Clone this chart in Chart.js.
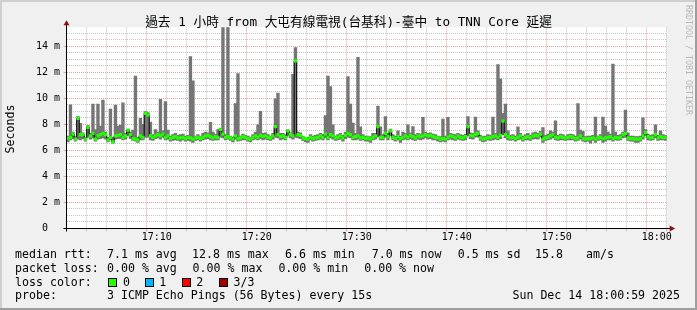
<!DOCTYPE html>
<html>
<head>
<meta charset="utf-8">
<script src="https://cdn.jsdelivr.net/npm/chart.js@4/dist/chart.umd.min.js"></script>
<style>
html,body{margin:0;padding:0;background:#f0f0f0;}
#wrap{position:relative;width:697px;height:310px;overflow:hidden;background:#f0f0f0;font-family:"DejaVu Sans Mono",monospace;color:#000;}
#wrap canvas{position:absolute;left:0;top:0;}
.t{position:absolute;white-space:pre;font-size:11.6px;line-height:11.6px;}
.box{position:absolute;width:7px;height:7px;border:1px solid #000;}
.edge{position:absolute;}
</style>
</head>
<body>
<div id="wrap">
  <canvas id="c" width="697" height="310"></canvas>
  <div class="edge" style="left:0;top:0;width:697px;height:2px;background:#cfcfcf"></div>
  <div class="edge" style="left:0;top:0;width:2px;height:310px;background:#cfcfcf"></div>
  <div class="edge" style="left:0;top:308px;width:697px;height:2px;background:#9e9e9e"></div>
  <div class="edge" style="left:695px;top:0;width:2px;height:310px;background:#9e9e9e"></div>
  <div class="t" id="title" style="left:0;width:697px;text-align:center;top:15px;font-size:12.7px;line-height:13px;font-family:'DejaVu Sans Mono','Noto Sans CJK TC',monospace;">過去 1 小時 from 大屯有線電視(台基科)-臺中 to TNN Core 延遲</div>
  <div class="t" style="left:11px;top:128.7px;transform:translate(-50%,-50%) rotate(-90deg);">Seconds</div>
  <div class="t" style="left:685px;top:5px;writing-mode:vertical-rl;font-size:8.3px;line-height:8.3px;color:#b8b8b8;">RRDTOOL / TOBI OETIKER</div>

  <div class="t" style="left:15px;top:248.7px">median rtt:</div>
  <div class="t" style="left:107px;top:248.7px">7.1 ms avg</div>
  <div class="t" style="left:192px;top:248.7px">12.8 ms max</div>
  <div class="t" style="left:285px;top:248.7px">6.6 ms min</div>
  <div class="t" style="left:371.7px;top:248.7px">7.0 ms now</div>
  <div class="t" style="left:457.7px;top:248.7px">0.5 ms sd</div>
  <div class="t" style="left:535px;top:248.7px">15.8</div>
  <div class="t" style="left:586px;top:248.7px">am/s</div>

  <div class="t" style="left:15px;top:262.7px">packet loss:</div>
  <div class="t" style="left:107px;top:262.7px">0.00 % avg</div>
  <div class="t" style="left:192.6px;top:262.7px">0.00 % max</div>
  <div class="t" style="left:278.4px;top:262.7px">0.00 % min</div>
  <div class="t" style="left:364.2px;top:262.7px">0.00 % now</div>

  <div class="t" style="left:15px;top:276.7px">loss color:</div>
  <div class="box" style="left:108px;top:278.3px;background:#26ff00"></div>
  <div class="t" style="left:123px;top:276.7px">0</div>
  <div class="box" style="left:145.3px;top:278.3px;background:#00b8ff"></div>
  <div class="t" style="left:159.3px;top:276.7px">1</div>
  <div class="box" style="left:182.2px;top:278.3px;background:#ff0000"></div>
  <div class="t" style="left:196.2px;top:276.7px">2</div>
  <div class="box" style="left:219px;top:278.3px;background:#a00000"></div>
  <div class="t" style="left:233.5px;top:276.7px">3/3</div>

  <div class="t" style="left:15px;top:290.4px">probe:</div>
  <div class="t" style="left:107px;top:290.4px">3 ICMP Echo Pings (56 Bytes) every 15s</div>
  <div class="t" style="right:17px;top:290.4px">Sun Dec 14 18:00:59 2025</div>
</div>
<script>
// ---- data ----
const startClock = '17:01:00';
const stepSeconds = 15;
const spanSeconds = 3600;
const yTop = 15.46;
const xTickLabels = ['17:10','17:20','17:30','17:40','17:50','18:00'];
const yTickLabels = ['0  ','2 m','4 m','6 m','8 m','10 m','12 m','14 m'];

const medianRtt = [
 6.9,7.0,7.25,6.85,8.45,7.2,7.2,6.85,7.76,7.1,7.3,6.85,7.1,7.2,7.3,7.2,6.8,7.0,6.65,7.1,
 7.15,7.2,7.0,7.1,7.55,7.2,6.9,6.85,6.8,7.1,7.0,8.84,8.7,7.1,7.0,7.1,7.2,7.1,7.25,7.0,
 7.1,6.9,7.0,7.05,6.95,6.95,7.0,6.9,7.0,6.95,6.85,6.95,7.0,6.9,7.0,7.1,7.15,7.05,6.95,7.05,
 7.0,7.6,7.25,7.0,7.05,6.95,6.85,7.1,6.9,6.95,7.05,7.0,6.9,6.85,7.0,7.1,7.0,7.15,7.05,7.1,
 7.0,6.95,7.1,7.82,7.2,7.05,7.1,7.0,7.5,7.2,7.1,12.87,7.2,7.15,6.95,6.9,6.85,7.0,6.9,6.95,
 7.0,7.1,7.0,7.25,7.0,7.2,7.1,6.95,7.0,7.1,6.95,7.15,7.3,7.2,7.0,7.05,7.1,6.95,7.0,6.9,
 6.95,6.85,7.0,7.1,7.82,7.0,7.0,7.3,7.05,7.5,7.0,6.9,7.05,6.9,7.0,7.1,7.0,7.15,7.05,6.95,
 7.1,7.05,7.1,7.2,7.1,7.15,7.05,7.0,6.95,6.85,6.9,6.85,7.0,7.1,7.05,6.95,7.1,7.0,6.95,7.05,
 7.82,7.15,7.1,7.25,7.3,6.95,6.85,6.9,7.0,6.95,7.05,7.1,7.0,7.15,8.25,7.2,7.05,6.95,7.0,6.9,
 7.0,7.1,6.9,7.0,7.05,6.95,7.1,7.15,7.1,7.25,6.85,6.95,7.0,7.1,7.2,7.0,6.95,7.05,7.0,6.95,
 7.0,7.05,7.0,6.9,6.95,7.1,6.9,6.85,6.9,6.9,6.95,6.85,6.95,7.0,6.9,6.95,7.0,7.05,6.9,7.0,
 6.95,7.0,7.2,7.3,6.95,6.9,6.9,6.85,6.85,6.9,7.1,7.35,7.05,6.95,7.0,7.2,6.95,7.05,7.0,7.0
];
const pingMax = [
 7.1,9.5,7.4,7.05,8.6,8.07,7.35,7.0,7.9,7.3,9.56,7.6,9.56,7.87,9.87,7.4,7.0,9.17,7.0,9.48,
 7.87,7.94,9.66,7.3,7.6,7.4,7.56,11.71,7.0,8.45,8.0,8.97,8.9,8.17,7.2,7.6,7.4,9.92,7.5,9.74,
 7.56,7.1,7.2,7.3,7.15,7.2,7.25,7.1,7.15,13.2,11.35,7.1,7.2,7.05,7.3,7.4,7.35,8.15,7.4,7.25,
 7.6,7.65,20,7.2,20,7.1,7.0,9.6,11.9,7.1,7.25,7.15,7.1,7.0,7.2,7.4,7.95,9.0,7.3,7.35,
 7.2,7.1,7.3,9.95,10.4,7.3,7.3,7.2,7.56,7.35,11.85,13.9,7.4,7.35,7.1,7.0,7.0,7.2,7.1,7.15,
 7.2,7.3,7.2,8.67,11.7,10.9,7.95,7.1,7.2,7.3,7.15,7.4,11.67,9.56,8.1,7.3,13.15,7.8,7.2,7.1,
 7.1,7.05,7.3,7.3,9.4,7.8,7.2,8.6,7.3,7.64,7.2,7.1,7.5,7.1,7.4,7.3,7.95,7.35,7.82,7.2,
 7.3,7.25,8.54,7.4,7.3,7.35,7.25,7.2,7.1,7.05,8.4,7.1,8.54,7.3,7.25,7.2,7.3,7.2,7.15,7.25,
 8.6,7.35,7.3,8.56,7.5,7.15,7.05,7.1,7.2,7.15,8.56,7.3,12.6,11.5,8.84,9.56,7.5,7.15,7.2,7.1,
 7.8,7.3,7.1,7.2,7.3,7.15,7.35,7.4,7.3,7.45,7.75,7.15,7.25,7.5,7.4,8.26,7.15,7.25,7.2,7.1,
 7.2,7.25,7.2,7.1,9.59,7.56,7.45,7.05,7.1,7.1,7.15,8.56,7.1,7.2,8.56,7.87,7.4,7.25,12.64,7.4,
 7.15,7.2,7.4,9.1,7.35,7.1,7.1,7.05,7.05,7.1,8.5,7.6,7.25,7.15,7.2,7.95,7.15,7.5,7.2,7.15
];
const pingMin = [
 6.65,6.8,6.9,6.7,6.85,6.8,6.9,6.7,7.0,6.85,6.95,6.7,6.85,6.9,6.95,6.85,6.65,6.8,6.55,6.85,
 6.9,6.9,6.8,6.85,7.1,6.9,6.75,6.7,6.6,6.8,6.8,7.0,7.0,6.8,6.75,6.9,6.95,6.85,7.0,6.8,
 6.85,6.7,6.75,6.8,6.75,6.7,6.8,6.7,6.75,6.7,6.6,6.75,6.8,6.7,6.8,6.85,6.9,6.8,6.75,6.8,
 6.8,7.0,6.95,6.8,6.85,6.75,6.65,6.85,6.7,6.75,6.8,6.8,6.7,6.65,6.8,6.85,6.8,6.9,6.8,6.85,
 6.8,6.75,6.85,7.0,6.95,6.8,6.85,6.8,7.1,6.95,6.85,7.0,6.95,6.9,6.75,6.65,6.6,6.8,6.7,6.75,
 6.8,6.85,6.8,6.95,6.8,6.95,6.85,6.75,6.8,6.85,6.7,6.9,7.0,6.95,6.8,6.8,6.85,6.75,6.8,6.7,
 6.7,6.6,6.8,6.85,7.05,6.8,6.8,7.0,6.8,7.1,6.8,6.7,6.8,6.6,6.8,6.85,6.8,6.9,6.8,6.75,
 6.85,6.8,6.85,6.95,6.85,6.9,6.8,6.8,6.7,6.65,6.7,6.65,6.8,6.85,6.8,6.75,6.85,6.8,6.75,6.8,
 7.1,6.9,6.85,7.0,7.05,6.75,6.65,6.7,6.8,6.75,6.8,6.85,6.8,6.9,7.2,6.95,6.8,6.75,6.8,6.7,
 6.8,6.85,6.7,6.8,6.8,6.75,6.85,6.9,6.85,7.0,6.6,6.75,6.8,6.85,6.95,6.8,6.75,6.8,6.8,6.75,
 6.8,6.8,6.8,6.7,6.75,6.85,6.7,6.65,6.7,6.55,6.75,6.6,6.75,6.8,6.6,6.7,6.8,6.8,6.7,6.8,
 6.75,6.8,6.95,7.0,6.75,6.7,6.7,6.6,6.6,6.7,6.85,7.1,6.8,6.75,6.8,6.95,6.75,6.8,6.8,6.75
];

// ---- helpers ----
function clockToSec(s){const p=s.split(':').map(Number);return p[0]*3600+p[1]*60+(p[2]||0);}
const startSec = clockToSec(startClock);
const majorSecs = xTickLabels.map(l => clockToSec(l) - startSec);
const tickSecs = [];
for (let s = 60; s < spanSeconds; s += 120) tickSecs.push(s);
const isMajorX = v => majorSecs.some(m => Math.abs(m - v) < 1e-6);
const isMajorY = v => Math.abs(v / 2 - Math.round(v / 2)) < 1e-6;
const tv = c => (c && c.tick) ? c.tick.value : NaN;

const MINOR = 'rgba(150,150,150,0.55)';
const MAJOR = 'rgba(225,110,110,0.65)';
const BAND = 0.1;

const smokeData = pingMin.map((lo, i) => ({x: i * stepSeconds + stepSeconds / 2, y: [lo, pingMax[i]]}));
const bandData = medianRtt.map((m, i) => ({x: i * stepSeconds + stepSeconds / 2, y: [m - BAND, m + BAND]}));
const lineData = medianRtt.map((m, i) => ({x: i * stepSeconds, y: m}));
lineData.push({x: medianRtt.length * stepSeconds, y: medianRtt[medianRtt.length - 1]});

const frame = {
  id: 'frame',
  beforeDraw(chart) {
    const {ctx, chartArea: a} = chart;
    ctx.save();
    ctx.fillStyle = '#ffffff';
    ctx.fillRect(a.left, a.top, a.right - a.left, a.bottom - a.top);
    ctx.restore();
  },
  afterDraw(chart) {
    const {ctx, chartArea: a} = chart;
    const X = Math.floor(a.left) + 0.5, Y = Math.floor(a.bottom) + 0.5;
    ctx.save();
    ctx.strokeStyle = '#000'; ctx.lineWidth = 1; ctx.setLineDash([]);
    ctx.beginPath(); ctx.moveTo(X, a.top - 3); ctx.lineTo(X, Y + 3); ctx.stroke();
    ctx.beginPath(); ctx.moveTo(X - 3, Y); ctx.lineTo(a.right + 4, Y); ctx.stroke();
    ctx.fillStyle = '#8e1010';
    ctx.beginPath(); ctx.moveTo(X, a.top - 7); ctx.lineTo(X - 3, a.top - 2); ctx.lineTo(X + 3, a.top - 2); ctx.closePath(); ctx.fill();
    ctx.beginPath(); ctx.moveTo(a.right + 8.5, Y); ctx.lineTo(a.right + 3, Y - 3); ctx.lineTo(a.right + 3, Y + 3); ctx.closePath(); ctx.fill();
    ctx.restore();
  }
};

new Chart(document.getElementById('c'), {
  type: 'bar',
  data: {
    datasets: [
      {type: 'bar', data: bandData, backgroundColor: '#20ff00', borderWidth: 0, barThickness: 2.6, grouped: false, order: 1},
      {type: 'line', data: lineData, borderColor: '#000000', borderWidth: 1, pointRadius: 0, stepped: 'before', fill: false, order: 2},
      {type: 'bar', data: smokeData, backgroundColor: '#757575', borderWidth: 0, barThickness: 2.7, grouped: false, order: 3}
    ]
  },
  options: {
    responsive: false, animation: false, devicePixelRatio: 1,
    layout: {padding: {left: 0, top: 27.3, right: 30.3, bottom: 61.7}},
    plugins: {legend: {display: false}, tooltip: {enabled: false}, title: {display: false}},
    scales: {
      x: {
        type: 'linear', min: 0, max: spanSeconds, offset: false,
        afterBuildTicks: s => { s.ticks = tickSecs.map(v => ({value: v})); },
        afterFit: s => { s.height = 20; },
        ticks: {
          autoSkip: false, maxRotation: 0, minRotation: 0, padding: 0, color: '#000',
          font: {family: 'DejaVu Sans Mono', size: 10},
          callback: v => { const k = majorSecs.findIndex(m => Math.abs(m - v) < 1e-6); return k >= 0 ? xTickLabels[k] : ''; }
        },
        grid: {
          color: c => isMajorX(tv(c)) ? MAJOR : MINOR,
          tickColor: c => isMajorX(tv(c)) ? MAJOR : MINOR,
          lineWidth: 1, tickLength: 3, drawTicks: true
        },
        border: {display: false, dash: [1, 1]}
      },
      y: {
        type: 'linear', min: 0, max: yTop,
        afterBuildTicks: s => { const t = []; for (let k = 0; k <= 30; k++) t.push({value: k / 2}); s.ticks = t; },
        afterFit: s => { s.width = 66.7; },
        ticks: {
          autoSkip: false, padding: 3.7, color: '#000',
          font: {family: 'DejaVu Sans Mono', size: 10},
          callback: v => isMajorY(v) ? (yTickLabels[Math.round(v / 2)] || '') : ''
        },
        grid: {
          color: c => isMajorY(tv(c)) ? MAJOR : MINOR,
          tickColor: c => isMajorY(tv(c)) ? MAJOR : 'rgba(0,0,0,0)',
          lineWidth: 1, tickLength: 3, drawTicks: true
        },
        border: {display: false, dash: [1, 1]}
      }
    }
  },
  plugins: [frame]
});
</script>
</body>
</html>
